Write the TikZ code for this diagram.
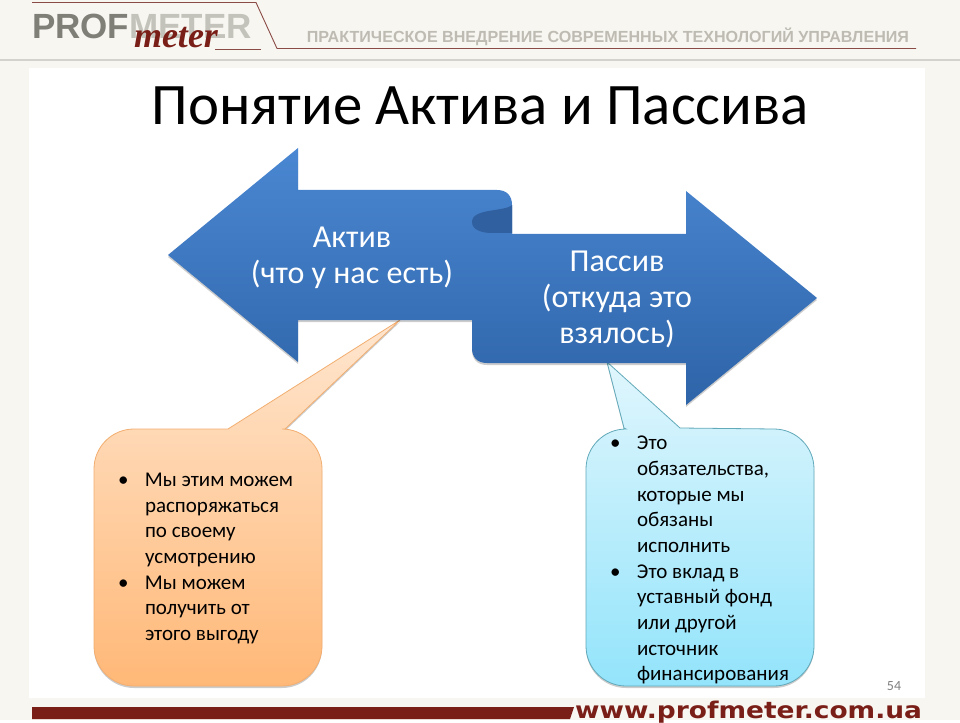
\documentclass[tikz,border=0pt]{standalone}
\usepackage{fontspec}
\setmainfont{Carlito}
\newfontfamily\headfont{Liberation Sans}
\newfontfamily\logofont{Liberation Serif}
\newfontfamily\webfont[FakeStretch=1.15]{DejaVu Sans}
\usetikzlibrary{positioning,shadows}
\definecolor{paper}{HTML}{F8F6F1}
\definecolor{rulegray}{HTML}{D4D2CC}
\definecolor{brandred}{HTML}{7A1F18}
\definecolor{linered}{HTML}{8A4A45}
\definecolor{logogray}{HTML}{7F7F78}
\definecolor{logolight}{HTML}{C4C3BB}
\definecolor{slogan}{HTML}{BDBBB2}
\definecolor{foldblue}{HTML}{30609F}
\definecolor{arrowtop}{HTML}{4A87D2}
\definecolor{arrowbot}{HTML}{2E64A8}
\definecolor{orangetop}{HTML}{FFE6CF}
\definecolor{orangebot}{HTML}{FFB877}
\definecolor{orangeline}{HTML}{F2AE70}
\definecolor{bluetop}{HTML}{E0F6FD}
\definecolor{bluebot}{HTML}{93E4FB}
\definecolor{blueline}{HTML}{62A9BA}
\newcommand{\bul}{\makebox[27pt][l]{\textbullet}}
\newcommand{\ind}{\hspace*{27pt}}
\begin{document}
\begin{tikzpicture}[x=1pt,y=-1pt,
                    every node/.append style = {inner sep=0pt, outer sep=0pt},
                    softshadow/.style = {general shadow={shadow xshift=0pt, shadow yshift=-2pt, opacity=.2, fill=black}},
                    arrowshape/.style = {top color=arrowtop, bottom color=arrowbot, softshadow},
                    arrowlabel/.style = {text=white, font=\fontsize{32}{36}\selectfont, align=center},
                    orangecall/.style = {draw=orangeline, line width=.8pt, top color=orangetop, bottom color=orangebot, softshadow},
                    bluecall/.style = {draw=blueline, line width=.8pt, top color=bluetop, bottom color=bluebot, softshadow},
                    calltext/.style = {anchor=north west, align=left, font=\fontsize{21}{25.7}\selectfont}]
    % page
    \fill[paper] (0,0) rectangle (960,720);
    \fill[white] (29,68) rectangle (925,698);
    \fill[rulegray] (0,59) rectangle (960,61);
    % logo
    \draw[linered, line width=.9pt] (32,2.5) -- (256,2.5) -- (277,48.5) -- (916,48.5);
    \draw[linered, line width=.9pt] (215,49) -- (261,49);
    \node[anchor=base west, font=\headfont\bfseries\fontsize{35}{35}\selectfont, text=logogray] (nprof) at (32,39) {PROF};
    \node[anchor=base west, font=\headfont\bfseries\fontsize{35}{35}\selectfont, text=logolight] (nmeter) at (nprof.base east) {METER};
    \node[anchor=base west, font=\logofont\bfseries\itshape\fontsize{36}{36}\selectfont, text=brandred] (nscript) at (134,48) {meter};
    \node[anchor=base east, font=\headfont\bfseries\fontsize{16.1}{16}\selectfont, text=slogan] (nslogan) at (909,43) {ПРАКТИЧЕСКОЕ ВНЕДРЕНИЕ СОВРЕМЕННЫХ ТЕХНОЛОГИЙ УПРАВЛЕНИЯ};
    % title
    \node[font=\fontsize{58.8}{60}\selectfont] (ntitle) at (480,106) {Понятие Актива и Пассива};
    % callouts
    \draw[orangecall] (134,429) -- (228,429) -- (400,320) -- (285,429) -- (282,429)
        arc[start angle=-90, end angle=0, radius=40] -- (322,646)
        arc[start angle=0, end angle=90, radius=40] -- (134,686)
        arc[start angle=90, end angle=180, radius=40] -- (94,469)
        arc[start angle=180, end angle=270, radius=40] -- cycle;
    \draw[bluecall] (626,429) -- (624,428) -- (607,362) -- (680,428) -- (774,429)
        arc[start angle=-90, end angle=0, radius=40] -- (814,646)
        arc[start angle=0, end angle=90, radius=40] -- (626,686)
        arc[start angle=90, end angle=180, radius=40] -- (586,469)
        arc[start angle=180, end angle=270, radius=40] -- cycle;
    % arrows
    \path[arrowshape] (168,255) -- (298,148) -- (298,190) -- (497,190)
        .. controls (507,190) and (512,196) .. (512,205) -- (512,234) -- (686,234) -- (686,191)
        -- (817,298) -- (686,405) -- (686,363) -- (487,363)
        .. controls (477,363) and (472,357) .. (472,348) -- (472,320) -- (298,320) -- (298,362) -- cycle;
    \fill[foldblue] (512,205) .. controls (505,212) and (472,208) .. (472,222)
        .. controls (472,230) and (482,233) .. (492,233) -- (512,233) -- cycle;
    \node[arrowlabel] (nactiv) at (352,258) {Актив\\(что у нас есть)};
    \node[arrowlabel] (npassiv) at (617,299) {Пассив\\(откуда это\\взялось)};
    % callout texts
    \node[calltext] (norange) at (118,473) {\bul Мы этим можем\\\ind распоряжаться\\\ind по своему\\\ind усмотрению\\\bul Мы можем\\\ind получить от\\\ind этого выгоду};
    \node[calltext] (nblue) at (610,436) {\bul Это\\\ind обязательства,\\\ind которые мы\\\ind обязаны\\\ind исполнить\\\bul Это вклад в\\\ind уставный фонд\\\ind или другой\\\ind источник\\\ind финансирования};
    % footer
    \node[text=gray, font=\fontsize{14}{14}\selectfont] (npage) at (894,686) {54};
    \fill[brandred] (32,707) -- (574,707) -- (570,719) -- (32,719) -- cycle;
    \node[anchor=base east, text=brandred, font=\webfont\bfseries\fontsize{23}{23}\selectfont] (nweb) at (922,718) {www.profmeter.com.ua};
    \useasboundingbox (0,0) rectangle (960,720);
\end{tikzpicture}
\end{document}
